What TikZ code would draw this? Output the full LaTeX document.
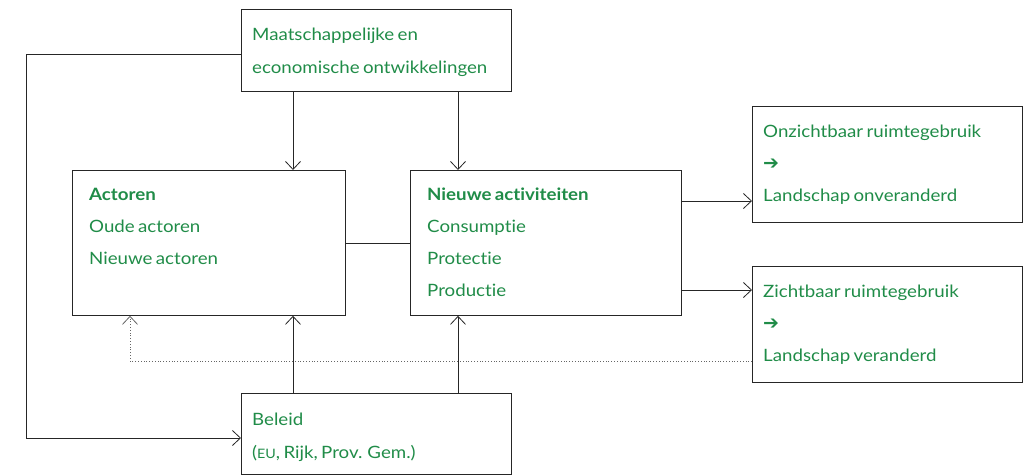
\documentclass[tikz,border=0pt]{standalone}
\usepackage{fontspec}
\setmainfont{Lato}[FakeStretch=1.1, WordSpace=0.7, Ligatures=NoCommon]
\newfontfamily\symfont{DejaVu Sans}
\usetikzlibrary{arrows.meta}
\definecolor{tgreen}{RGB}{32,140,72}
\begin{document}
\begin{tikzpicture}[x=1pt,y=-1pt,
  box/.style={draw=black!85, line width=0.8pt, inner sep=0pt, anchor=north west},
  txt/.style={text=tgreen, anchor=base west, inner sep=0pt, font=\fontsize{17}{17}\selectfont},
  conn/.style={draw=black!85, line width=0.8pt},
  arr/.style={conn, -{Straight Barb[length=8pt,width=15pt]}},
  dots/.style={draw=black!60, line width=0.8pt, dotted, -{Straight Barb[length=8pt,width=15pt]}},
  garrow/.style={txt, font=\symfont\bfseries\fontsize{19}{19}\selectfont}]
\useasboundingbox (0,0) rectangle (1027,475);
% boxes
\node[box, minimum width=270pt, minimum height=82pt] (M) at (241,9) {};
\node[box, minimum width=273pt, minimum height=145pt] (A) at (72,170) {};
\node[box, minimum width=271pt, minimum height=145pt] (N) at (410,170) {};
\node[box, minimum width=270pt, minimum height=116pt] (O) at (752,106) {};
\node[box, minimum width=270pt, minimum height=116pt] (Z) at (752,266) {};
\node[box, minimum width=270pt, minimum height=81pt] (B) at (241,393) {};
% texts
\node[txt] (m1t) at (252,40) {Maatschappelijke en};
\node[txt] (m2t) at (252,73) {economische ontwikkelingen};
\node[txt, font=\bfseries\fontsize{17}{17}\selectfont] (a1t) at (89,200) {Actoren};
\node[txt] (a2t) at (89,232) {Oude actoren};
\node[txt] (a3t) at (89,264) {Nieuwe actoren};
\node[txt, font=\bfseries\fontsize{17}{17}\selectfont] (n1t) at (427,200) {Nieuwe activiteiten};
\node[txt] (n2t) at (427,232) {Consumptie};
\node[txt] (n3t) at (427,264) {Protectie};
\node[txt] (n4t) at (427,296) {Productie};
\node[txt] (o1t) at (763,137) {Onzichtbaar ruimtegebruik};
\node[garrow] (o2t) at (763,169) {➔};
\node[txt] (o3t) at (763,201) {Landschap onveranderd};
\node[txt] (z1t) at (763,297) {Zichtbaar ruimtegebruik};
\node[garrow] (z2t) at (763,329) {➔};
\node[txt] (z3t) at (763,361) {Landschap veranderd};
\node[txt] (b1t) at (252,425) {Beleid};
\node[txt] (b2t) at (252,458) {({\fontsize{13}{13}\selectfont EU}, Rijk, Prov. Gem.)};
% connector points
\coordinate (mA) at ([xshift=52pt]M.south west);
\coordinate (mN) at ([xshift=217pt]M.south west);
\coordinate (bA) at ([xshift=52pt]B.north west);
\coordinate (bN) at ([xshift=217pt]B.north west);
\coordinate (nO) at ([yshift=-31pt]N.north east);
\coordinate (nZ) at ([yshift=-120pt]N.north east);
\coordinate (mL) at ([yshift=-45pt]M.north west);
\coordinate (bL) at ([yshift=-45pt]B.north west);
\coordinate (zL) at ([yshift=-95pt]Z.north west);
\coordinate (aD) at ([xshift=58pt]A.south west);
% connectors
\draw[arr] (mA) -- (mA |- A.north);
\draw[arr] (mN) -- (mN |- N.north);
\draw[arr] (bA) -- (bA |- A.south);
\draw[arr] (bN) -- (bN |- N.south);
\draw[conn] (A.east) -- (N.west);
\draw[arr] (nO) -- (nO -| O.west);
\draw[arr] (nZ) -- (nZ -| Z.west);
\draw[arr] (mL) -- ++(-215,0) |- (bL);
\draw[dots] (zL) -| (aD);
\end{tikzpicture}
\end{document}
